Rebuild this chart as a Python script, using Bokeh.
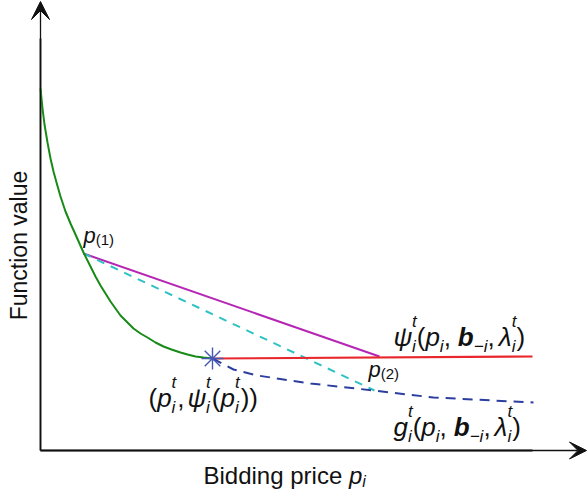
from bokeh.plotting import figure
from bokeh.models import ColumnDataSource, Range1d, Arrow, VeeHead
from bokeh.embed import file_html
from bokeh.resources import INLINE
from bokeh.core.properties import value
import math

# ---- data (arbitrary units: x = bidding price, y = function value) ----
green_x = [0, 2, 4, 7, 10, 13, 16, 20, 25, 30, 35, 43, 50, 55, 60, 65, 70, 75, 80, 87, 93,
           100, 107, 115, 123, 131, 140, 147, 155, 163, 172]
green_y = [362, 342, 326, 308, 292, 279, 268, 254, 239, 227, 216, 198, 184, 174, 165, 157, 149,
           142, 135, 128, 122, 117, 113, 108, 104, 101, 98, 96, 94, 93, 92]

magenta_x = [43, 339]
magenta_y = [197, 94]

cyan_x = [43, 334]
cyan_y = [197, 60]

red_x = [172, 492]
red_y = [92, 94]

blue_x = [172, 193, 217, 270, 333, 393, 493]
blue_y = [92, 81, 75, 67, 60, 53, 48]

star_x = [172]
star_y = [92]

FONT = "Liberation Sans"
TXT = "#111111"

p = figure(width=587, height=493, x_range=Range1d(-40, 547), y_range=Range1d(-43, 450),
           x_axis_type=None, y_axis_type=None, toolbar_location=None,
           output_backend="svg", min_border=0)
p.outline_line_color = None
p.grid.visible = False
p.background_fill_color = "white"
p.border_fill_color = "white"

# axes with arrows
p.segment(x0=[0, 0], y0=[0, 0], x1=[492, 0], y1=[0, 412], line_color="#222222", line_width=1.8)
p.add_layout(Arrow(end=VeeHead(size=18, fill_color="#111111", line_color="#111111"),
                   x_start=0, y_start=0, x_end=0, y_end=449,
                   line_color="#111111", line_width=1.3))
p.add_layout(Arrow(end=VeeHead(size=17, fill_color="#111111", line_color="#111111"),
                   x_start=0, y_start=0, x_end=546, y_end=0,
                   line_color="#111111", line_width=1.3))

# curves
p.line(magenta_x, magenta_y, line_color="#B526B5", line_width=2)
p.line(cyan_x, cyan_y, line_color="#2EC2C4", line_width=2, line_dash="8 7")
p.line(red_x, red_y, line_color="#E8262B", line_width=2.2)
p.line(blue_x, blue_y, line_color="#2C3E9F", line_width=2, line_dash="10 7")
p.line(green_x, green_y, line_color="#178A17", line_width=2)
p.scatter(star_x, star_y, marker="asterisk", size=22, line_color="#4459B4", line_width=1.4)

# ---- composed math labels ----
WID = {'B': 0.667, 'i': 0.222, 'd': 0.556, 'n': 0.556, 'g': 0.556, ' ': 0.278, 'p': 0.556,
       'r': 0.333, 'c': 0.5, 'e': 0.556, '(': 0.333, ')': 0.333, ',': 0.278, '1': 0.556,
       '2': 0.556, 't': 0.278, 'b': 0.611, '\u2212': 0.584, '\u03c8': 0.712, '\u03bb': 0.5}


def tw(s):
    return sum(WID.get(c, 0.556) for c in s)


rows = dict(x=[], y=[], text=[], size=[], style=[])


def put(x, y, t, sz, st):
    rows['x'].append(x)
    rows['y'].append(y)
    rows['text'].append(t)
    rows['size'].append(f"{sz}px")
    rows['style'].append(st)


def compose(items, x0, y0, E, s, up, down):
    x = x0
    for it in items:
        k = it[0]
        if k == 'gap':
            x += it[1]
        elif k == 'n':
            put(x, y0, it[1], E, it[2]); x += tw(it[1]) * E
        elif k == 'sub':
            put(x, y0 - down, it[1], s, it[2]); x += tw(it[1]) * s
        elif k == 'sup':
            put(x, y0 + up, it[1], s, it[2]); x += tw(it[1]) * s
        elif k == 'ss':
            put(x, y0 + up, it[1], s, it[3]); put(x, y0 - down, it[2], s, it[3])
            x += max(tw(it[1]), tw(it[2])) * s


PSI = '\u03c8'
LAM = '\u03bb'
MINUS = '\u2212'

args_tail = [('n', '(', 'normal'), ('n', 'p', 'italic'), ('sub', 'i', 'italic'), ('n', ',', 'normal'),
             ('gap', 7), ('n', 'b', 'bold italic'), ('sub', MINUS + 'i', 'italic'), ('n', ',', 'normal'),
             ('gap', 4), ('n', LAM, 'italic'), ('ss', 't', 'i', 'italic'), ('n', ')', 'normal')]

psi_label = [('n', PSI, 'italic'), ('ss', 't', 'i', 'italic')] + args_tail
g_label = [('n', 'g', 'italic'), ('ss', 't', 'i', 'italic')] + args_tail
star_label = [('n', '(', 'normal'), ('n', 'p', 'italic'), ('ss', 't', 'i', 'italic'), ('gap', 1),
              ('n', ',', 'normal'), ('gap', 3),
              ('n', PSI, 'italic'), ('ss', 't', 'i', 'italic'), ('gap', 1), ('n', '(', 'normal'),
              ('n', 'p', 'italic'), ('ss', 't', 'i', 'italic'), ('gap', 1), ('n', ')', 'normal'),
              ('n', ')', 'normal')]
p1_label = [('n', 'p', 'italic'), ('sub', '(1)', 'normal')]
p2_label = [('n', 'p', 'italic'), ('sub', '(2)', 'normal')]
xlab = [('n', 'Bidding price ', 'normal'), ('n', 'p', 'italic'), ('sub', 'i', 'italic')]

compose(psi_label, 353, 114, 26, 17, 15, 10)
compose(g_label, 353, 24, 26, 17, 15, 10)
compose(star_label, 108, 53, 26, 17, 15, 10)
compose(p1_label, 43, 215, 22, 15, 0, 4)
compose(p2_label, 328, 81, 22, 15, 0, 4)
compose(xlab, 163, -25, 24, 16, 0, 6)

src = ColumnDataSource(rows)
p.text(x='x', y='y', text='text', source=src, text_font=value(FONT), text_font_size='size',
       text_font_style='style', text_color=TXT, text_align="left", text_baseline="alphabetic")

p.text(x=[-22], y=[205], text=["Function value"], angle=math.pi / 2, text_font=value(FONT),
       text_font_size="23px", text_color=TXT, text_align="center", text_baseline="alphabetic")

open("out.html", "w").write(file_html(p, INLINE))
